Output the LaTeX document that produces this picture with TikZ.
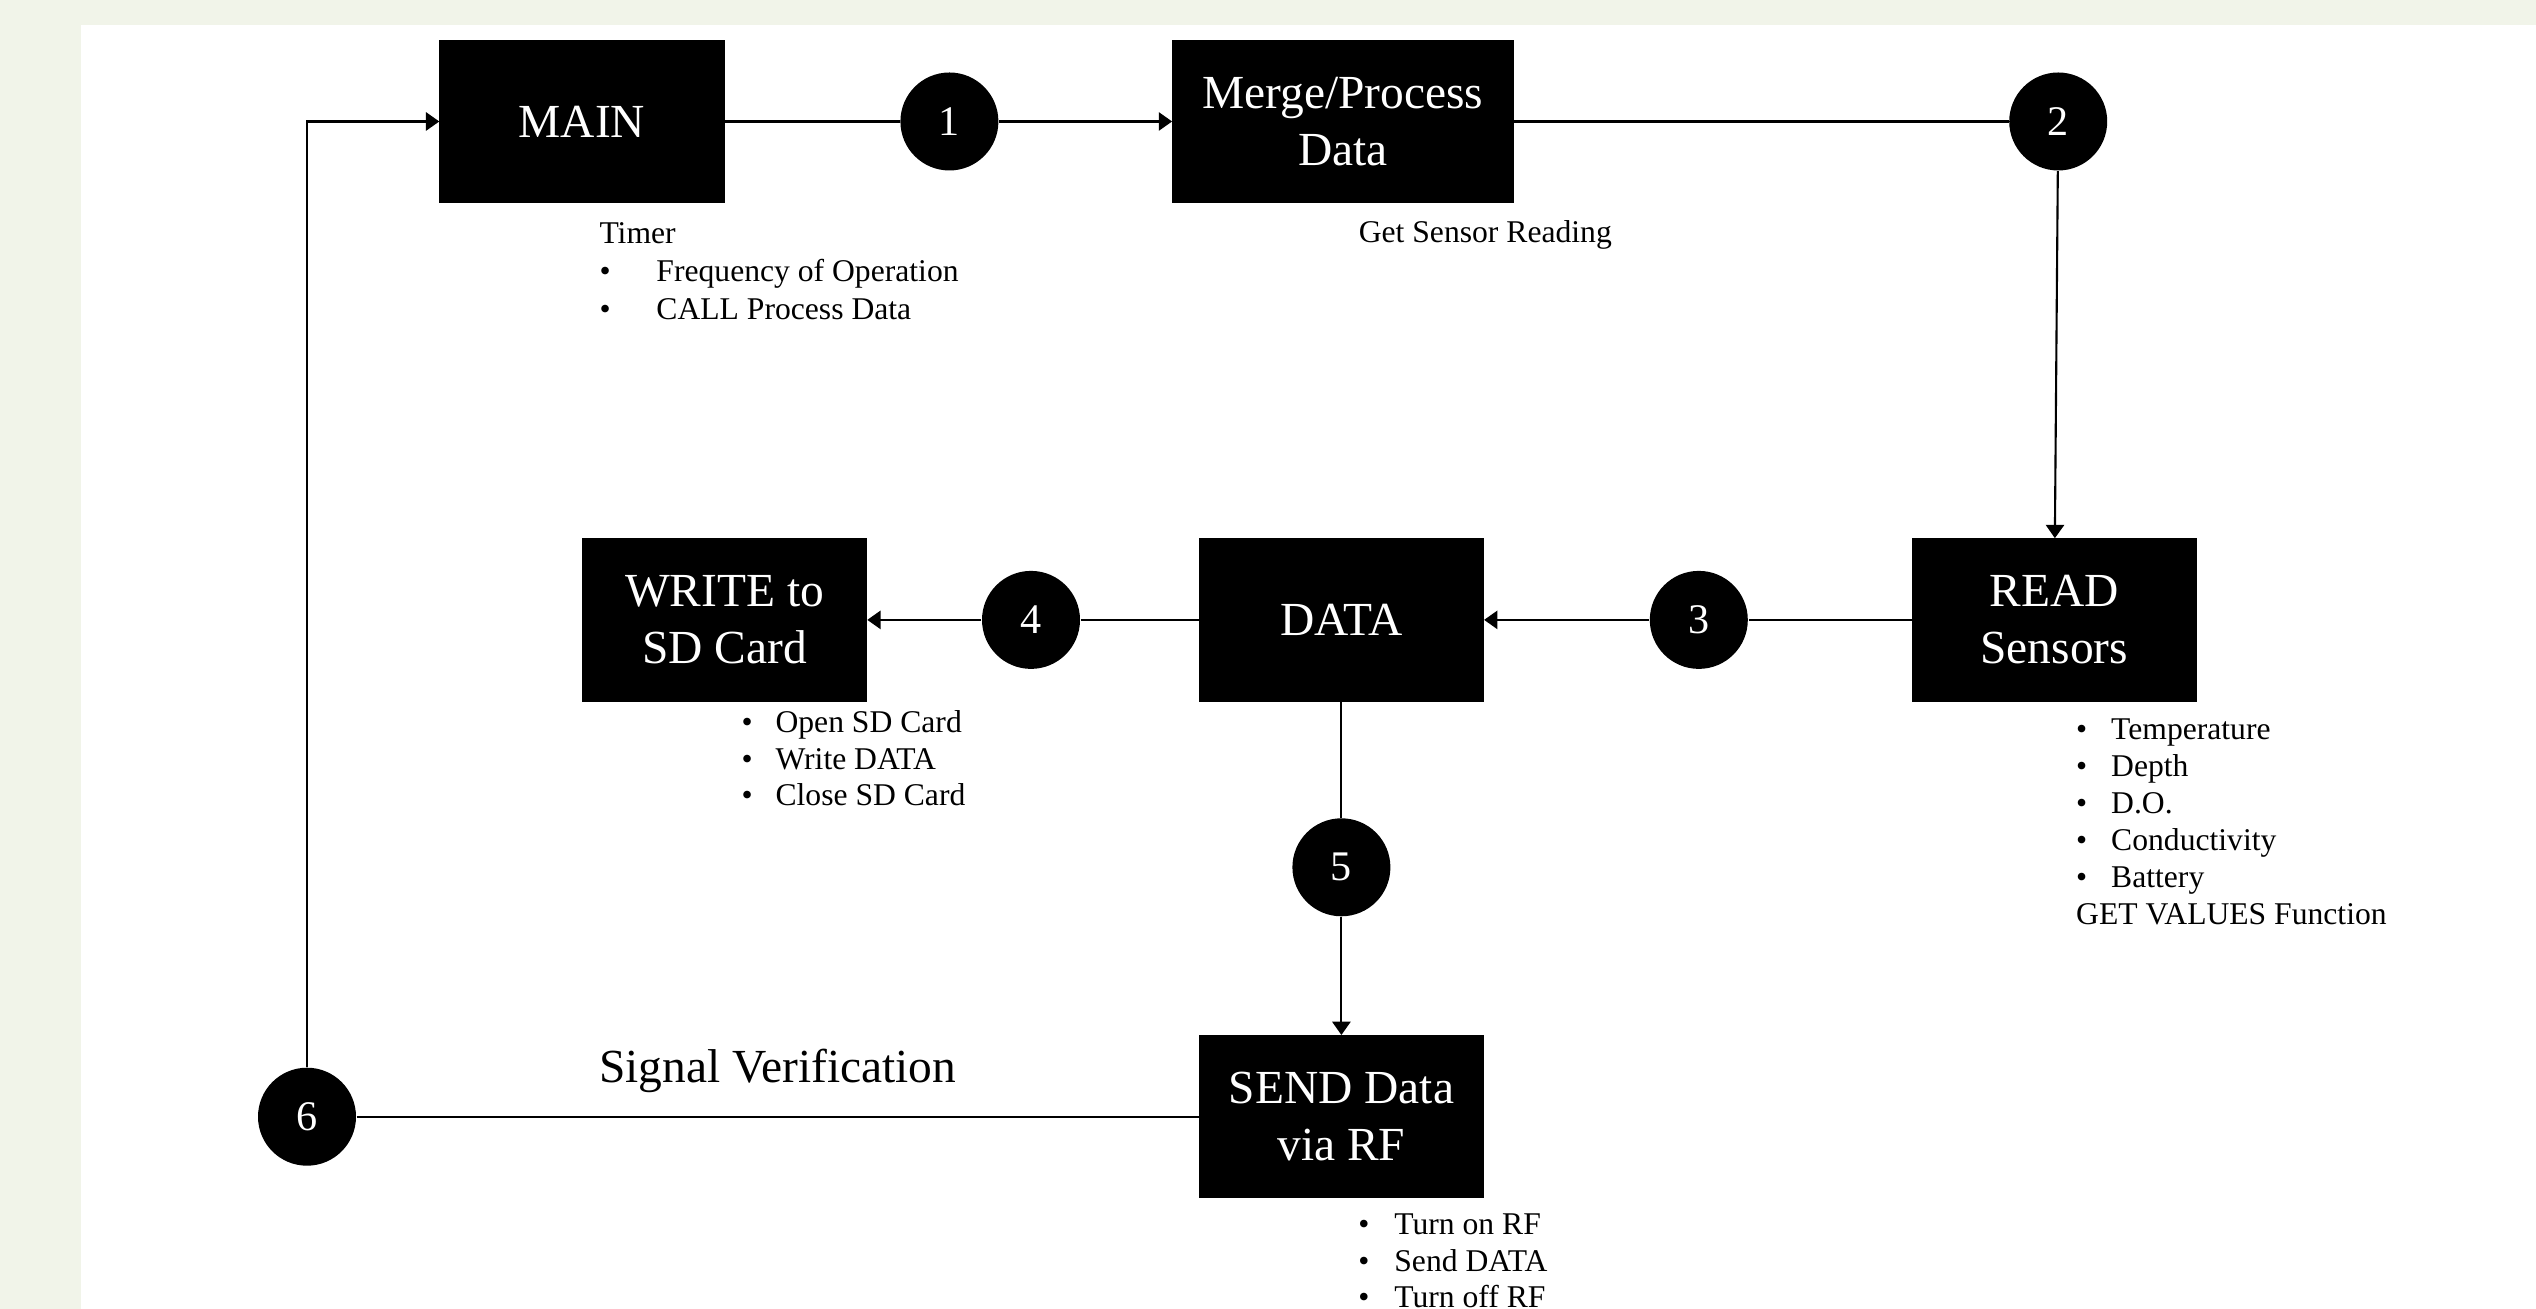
\documentclass[tikz,border=0pt]{standalone}
\usepackage{fontspec}
\setmainfont{Liberation Serif}
\usepackage{xcolor}
\usepackage{tikz}
\usetikzlibrary{positioning,arrows.meta}
\definecolor{pagebg}{RGB}{241,244,233}
\newcommand{\bul}[1]{\strut\makebox[#1][l]{\textbullet}}

\begin{document}
\begin{tikzpicture}[x=1cm,y=1cm, node distance=1.63cm and 1.63cm, >={Triangle[length=3.8pt,width=5.2pt]},
  every node/.style={font=\fontsize{9}{10.5}\selectfont},
  blk/.style={fill=black,draw=black,text=white,align=center,minimum width=2.84cm,minimum height=1.62cm,inner sep=0pt,font=\fontsize{13.5}{16.2}\selectfont},
  num/.style={circle,fill=black,text=white,minimum size=0.98cm,inner sep=0pt,font=\fontsize{12}{14}\selectfont},
  note/.style={align=left,inner sep=0pt},
  ln/.style={line width=0.6pt}]
  \fill[pagebg] (0,0) rectangle (25.36,-13.09);
  \fill[white] (0.81,-0.25) rectangle (25.36,-13.09);
  \useasboundingbox (0,0) rectangle (25.36,-13.09);
  % top row
  \node[blk] (main) at (5.82,-1.215) {MAIN};
  \node[num,right=1.75cm of main] (c1) {1};
  \node[blk,right=1.73cm of c1,minimum width=3.4cm] (merge) {Merge/Process\\Data};
  \node[num,right=4.95cm of merge] (c2) {2};
  % middle row
  \node[blk,below=3.67cm of c2,xshift=-0.4mm] (read) {READ\\Sensors};
  \node[num,left=of read] (c3) {3};
  \node[blk,left=1.65cm of c3] (data) {DATA};
  \node[num,left=1.18cm of data] (c4) {4};
  \node[blk,left=1.14cm of c4] (write) {WRITE to\\SD Card};
  % bottom row
  \node[num,below=1.16cm of data] (c5) {5};
  \node[blk,below=1.18cm of c5] (send) {SEND Data\\via RF};
  \node[num,left=8.42cm of send] (c6) {6};
  % notes
  \node[note,font=\fontsize{9}{10.8}\selectfont,below right=1.29mm and 15.95mm of main.south west] (timer) {\strut Timer\\\bul{5.7mm}Frequency of Operation\\\bul{5.7mm}CALL Process Data};
  \node[note,below right=1.3mm and 18.6mm of merge.south west] (getread) {\strut Get Sensor Reading};
  \node[note,below right=0.4mm and 15.9mm of write.south west] (sdlist) {\bul{3.4mm}Open SD Card\\\bul{3.4mm}Write DATA\\\bul{3.4mm}Close SD Card};
  \node[note,below right=1.15mm and 16.4mm of read.south west] (sensors) {\bul{3.5mm}Temperature\\\bul{3.5mm}Depth\\\bul{3.5mm}D.O.\\\bul{3.5mm}Conductivity\\\bul{3.5mm}Battery\\\strut GET VALUES Function};
  \node[note,font=\fontsize{9}{10.4}\selectfont,below right=1.0mm and 15.9mm of send.south west] (rflist) {\bul{3.6mm}Turn on RF\\\bul{3.6mm}Send DATA\\\bul{3.6mm}Turn off RF};
  % connectors
  \draw[ln] (main)--(c1); \draw[ln,->] (c1)--(merge);
  \draw[ln] (merge)--(c2); \draw[ln,->] (c2)--(read);
  \draw[ln] (read)--(c3); \draw[ln,->] (c3)--(data);
  \draw[ln] (data)--(c4); \draw[ln,->] (c4)--(write);
  \draw[ln] (data)--(c5); \draw[ln,->] (c5)--(send);
  \draw[ln] (send)-- node[midway,anchor=base,yshift=3.4mm,font=\fontsize{13.5}{16.2}\selectfont] (sig) {Signal Verification} (c6);
  \draw[ln,->] (c6) |- (main);
\end{tikzpicture}
\end{document}
